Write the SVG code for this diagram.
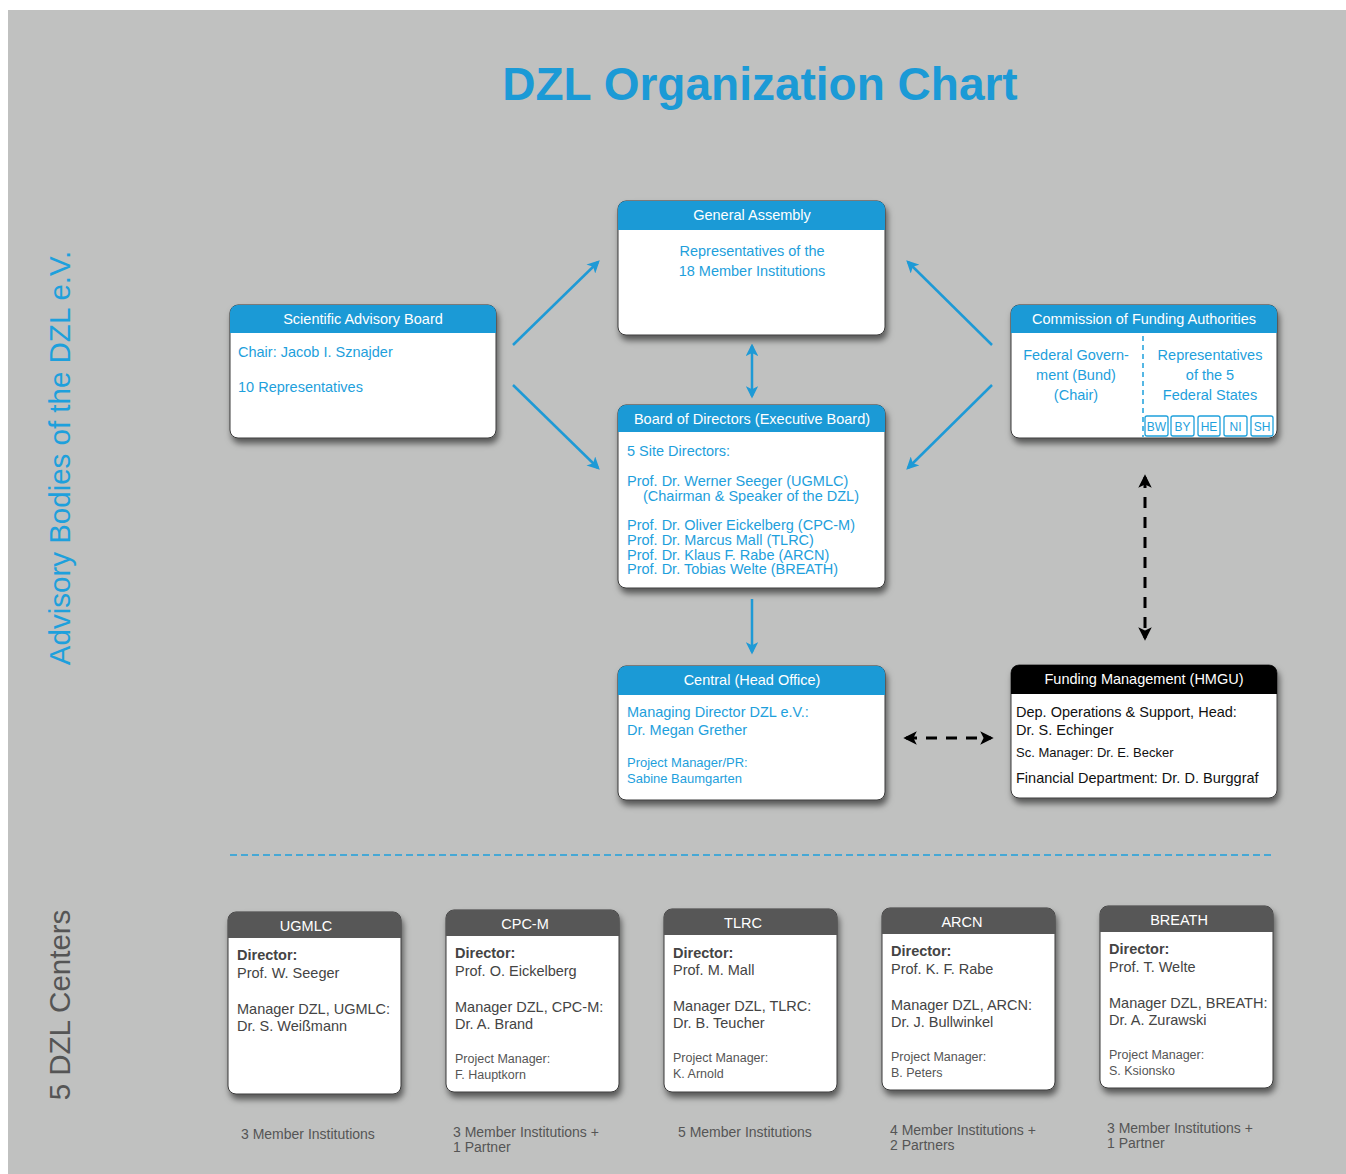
<svg xmlns="http://www.w3.org/2000/svg" width="1346" height="1174" viewBox="0 0 1346 1174">
<style>
.bg{fill:#c0c1c0}
.box{fill:#fff;stroke:#3a3a3a;stroke-width:1}
.hb{fill:#1b9ad6}
.hk{fill:#000}
.hg{fill:#575757}
text{font-family:"Liberation Sans",Arial,sans-serif}
.ht{fill:#fff;font-size:14.5px;text-anchor:middle}
.bt{fill:#1ea0dc;font-size:14.5px}
.bs{fill:#1ea0dc;font-size:13px}
.kt{fill:#111;font-size:14.5px}
.ks{fill:#111;font-size:13px}
.gt{fill:#444;font-size:14.5px}
.gb{fill:#444;font-size:14.5px;font-weight:bold}
.gs{fill:#555;font-size:12.5px}
.ut{fill:#555;font-size:14px}
.mid{text-anchor:middle}
.sb{fill:#fff;stroke:#1ea0dc;stroke-width:1.3}
.st{fill:#1ea0dc;font-size:12px;text-anchor:middle}
.ba{stroke:#1e9ad6;stroke-width:2.5;fill:none}
.ka{stroke:#000;stroke-width:3;fill:none;stroke-dasharray:11 9}
</style>
<defs>
<filter id="sh" x="-10%" y="-10%" width="125%" height="130%">
<feDropShadow dx="2" dy="5" stdDeviation="3" flood-color="#000" flood-opacity="0.55"/>
</filter>
<marker id="ab" viewBox="0 0 10 10" refX="8" refY="5" markerWidth="5" markerHeight="5" orient="auto-start-reverse" markerUnits="strokeWidth">
<path d="M0,0 L10,5 L0,10 L2.5,5 Z" fill="#1e9ad6"/>
</marker>
<marker id="ak" viewBox="0 0 10 10" refX="8" refY="5" markerWidth="4.5" markerHeight="4.5" orient="auto-start-reverse" markerUnits="strokeWidth">
<path d="M0,0 L10,5 L0,10 L2.5,5 Z" fill="#000"/>
</marker>
</defs>
<rect class="bg" x="8" y="10" width="1338" height="1164"/>
<text x="760" y="100" font-size="46" font-weight="bold" fill="#1b9ad6" text-anchor="middle">DZL Organization Chart</text>
<text transform="translate(70,458) rotate(-90)" font-size="29.5" fill="#1ea0dc" text-anchor="middle">Advisory Bodies of the DZL e.V.</text>
<text transform="translate(70,1005) rotate(-90)" font-size="29.5" fill="#555" text-anchor="middle">5 DZL Centers</text>
<line x1="230" y1="855" x2="1273" y2="855" stroke="#1ea0dc" stroke-width="1.5" stroke-dasharray="7 4"/>

<g id="connectors">
<line class="ba" x1="513" y1="345" x2="598" y2="262" marker-end="url(#ab)"/>
<line class="ba" x1="513" y1="385" x2="598" y2="468" marker-end="url(#ab)"/>
<line class="ba" x1="992" y1="345" x2="908" y2="262" marker-end="url(#ab)"/>
<line class="ba" x1="992" y1="385" x2="908" y2="468" marker-end="url(#ab)"/>
<line class="ba" x1="752" y1="346" x2="752" y2="396" marker-start="url(#ab)" marker-end="url(#ab)"/>
<line class="ba" x1="752" y1="599" x2="752" y2="652" marker-end="url(#ab)"/>
<line class="ka" x1="1145" y1="477" x2="1145" y2="638" marker-start="url(#ak)" marker-end="url(#ak)"/>
<line class="ka" x1="906" y1="738" x2="991" y2="738" marker-start="url(#ak)" marker-end="url(#ak)"/>
</g>

<g id="sab">
<rect class="box" x="230" y="305" width="266" height="133" rx="8" filter="url(#sh)"/>
<path class="hb" d="M230,333 V313 A8,8 0 0 1 238,305 H488 A8,8 0 0 1 496,313 V333 Z"/>
<text class="ht" x="363" y="324">Scientific Advisory Board</text>
<text class="bt" x="238" y="357">Chair: Jacob I. Sznajder</text>
<text class="bt" x="238" y="392">10 Representatives</text>
</g>

<g id="ga">
<rect class="box" x="618" y="201" width="267" height="134" rx="8" filter="url(#sh)"/>
<path class="hb" d="M618,230 V209 A8,8 0 0 1 626,201 H877 A8,8 0 0 1 885,209 V230 Z"/>
<text class="ht" x="752" y="220">General Assembly</text>
<text class="bt mid" x="752" y="256">Representatives of the</text>
<text class="bt mid" x="752" y="276">18 Member Institutions</text>
</g>

<g id="cfa">
<rect class="box" x="1011" y="305" width="266" height="133" rx="8" filter="url(#sh)"/>
<path class="hb" d="M1011,333 V313 A8,8 0 0 1 1019,305 H1269 A8,8 0 0 1 1277,313 V333 Z"/>
<text class="ht" x="1144" y="324">Commission of Funding Authorities</text>
<line x1="1143" y1="336" x2="1143" y2="437" stroke="#1ea0dc" stroke-width="1.5" stroke-dasharray="5 4"/>
<text class="bt mid" x="1076" y="360">Federal Govern-</text>
<text class="bt mid" x="1076" y="380">ment (Bund)</text>
<text class="bt mid" x="1076" y="400">(Chair)</text>
<text class="bt mid" x="1210" y="360">Representatives</text>
<text class="bt mid" x="1210" y="380">of the 5</text>
<text class="bt mid" x="1210" y="400">Federal States</text>
<rect class="sb" x="1145" y="416" width="23" height="20" rx="2"/>
<rect class="sb" x="1171" y="416" width="23" height="20" rx="2"/>
<rect class="sb" x="1198" y="416" width="22" height="20" rx="2"/>
<rect class="sb" x="1224" y="416" width="23" height="20" rx="2"/>
<rect class="sb" x="1251" y="416" width="22" height="20" rx="2"/>
<text class="st" x="1156.5" y="431">BW</text>
<text class="st" x="1182.5" y="431">BY</text>
<text class="st" x="1209" y="431">HE</text>
<text class="st" x="1235.5" y="431">NI</text>
<text class="st" x="1262" y="431">SH</text>
</g>

<g id="bod">
<rect class="box" x="618" y="405" width="267" height="183" rx="8" filter="url(#sh)"/>
<path class="hb" d="M618,432 V413 A8,8 0 0 1 626,405 H877 A8,8 0 0 1 885,413 V432 Z"/>
<text class="ht" x="752" y="424">Board of Directors (Executive Board)</text>
<text class="bt" x="627" y="456">5 Site Directors:</text>
<text class="bt" x="627" y="486">Prof. Dr. Werner Seeger (UGMLC)</text>
<text class="bt" x="643" y="501">(Chairman &amp; Speaker of the DZL)</text>
<text class="bt" x="627" y="530">Prof. Dr. Oliver Eickelberg (CPC-M)</text>
<text class="bt" x="627" y="545">Prof. Dr. Marcus Mall (TLRC)</text>
<text class="bt" x="627" y="560">Prof. Dr. Klaus F. Rabe (ARCN)</text>
<text class="bt" x="627" y="574">Prof. Dr. Tobias Welte (BREATH)</text>
</g>

<g id="central">
<rect class="box" x="618" y="666" width="267" height="134" rx="8" filter="url(#sh)"/>
<path class="hb" d="M618,695 V674 A8,8 0 0 1 626,666 H877 A8,8 0 0 1 885,674 V695 Z"/>
<text class="ht" x="752" y="685">Central (Head Office)</text>
<text class="bt" x="627" y="717">Managing Director DZL e.V.:</text>
<text class="bt" x="627" y="735">Dr. Megan Grether</text>
<text class="bs" x="627" y="767">Project Manager/PR:</text>
<text class="bs" x="627" y="783">Sabine Baumgarten</text>
</g>

<g id="fm">
<rect class="box" x="1011" y="665" width="266" height="133" rx="8" filter="url(#sh)"/>
<path class="hk" d="M1011,694 V673 A8,8 0 0 1 1019,665 H1269 A8,8 0 0 1 1277,673 V694 Z"/>
<text class="ht" x="1144" y="684">Funding Management (HMGU)</text>
<text class="kt" x="1016" y="717">Dep. Operations &amp; Support, Head:</text>
<text class="kt" x="1016" y="735">Dr. S. Echinger</text>
<text class="ks" x="1016" y="757">Sc. Manager: Dr. E. Becker</text>
<text class="kt" x="1016" y="783">Financial Department: Dr. D. Burggraf</text>
</g>

<g id="ugmlc">
<rect class="box" x="228" y="912" width="173" height="182" rx="8" filter="url(#sh)"/>
<path class="hg" d="M228,938 V920 A8,8 0 0 1 236,912 H393 A8,8 0 0 1 401,920 V938 Z"/>
<text class="ht" x="306" y="931">UGMLC</text>
<text class="gb" x="237" y="960">Director:</text>
<text class="gt" x="237" y="978">Prof. W. Seeger</text>
<text class="gt" x="237" y="1014">Manager DZL, UGMLC:</text>
<text class="gt" x="237" y="1031">Dr. S. Weißmann</text>
<text class="ut" x="241" y="1139">3 Member Institutions</text>
</g>

<g id="cpcm">
<rect class="box" x="446" y="910" width="173" height="182" rx="8" filter="url(#sh)"/>
<path class="hg" d="M446,936 V918 A8,8 0 0 1 454,910 H611 A8,8 0 0 1 619,918 V936 Z"/>
<text class="ht" x="525" y="929">CPC-M</text>
<text class="gb" x="455" y="958">Director:</text>
<text class="gt" x="455" y="976">Prof. O. Eickelberg</text>
<text class="gt" x="455" y="1012">Manager DZL, CPC-M:</text>
<text class="gt" x="455" y="1029">Dr. A. Brand</text>
<text class="gs" x="455" y="1063">Project Manager:</text>
<text class="gs" x="455" y="1079">F. Hauptkorn</text>
<text class="ut" x="453" y="1137">3 Member Institutions +</text>
<text class="ut" x="453" y="1152">1 Partner</text>
</g>

<g id="tlrc">
<rect class="box" x="664" y="909" width="173" height="183" rx="8" filter="url(#sh)"/>
<path class="hg" d="M664,935 V917 A8,8 0 0 1 672,909 H829 A8,8 0 0 1 837,917 V935 Z"/>
<text class="ht" x="743" y="928">TLRC</text>
<text class="gb" x="673" y="958">Director:</text>
<text class="gt" x="673" y="975">Prof. M. Mall</text>
<text class="gt" x="673" y="1011">Manager DZL, TLRC:</text>
<text class="gt" x="673" y="1028">Dr. B. Teucher</text>
<text class="gs" x="673" y="1062">Project Manager:</text>
<text class="gs" x="673" y="1078">K. Arnold</text>
<text class="ut" x="678" y="1137">5 Member Institutions</text>
</g>

<g id="arcn">
<rect class="box" x="882" y="908" width="173" height="182" rx="8" filter="url(#sh)"/>
<path class="hg" d="M882,934 V916 A8,8 0 0 1 890,908 H1047 A8,8 0 0 1 1055,916 V934 Z"/>
<text class="ht" x="962" y="927">ARCN</text>
<text class="gb" x="891" y="956">Director:</text>
<text class="gt" x="891" y="974">Prof. K. F. Rabe</text>
<text class="gt" x="891" y="1010">Manager DZL, ARCN:</text>
<text class="gt" x="891" y="1027">Dr. J. Bullwinkel</text>
<text class="gs" x="891" y="1061">Project Manager:</text>
<text class="gs" x="891" y="1077">B. Peters</text>
<text class="ut" x="890" y="1135">4 Member Institutions +</text>
<text class="ut" x="890" y="1150">2 Partners</text>
</g>

<g id="breath">
<rect class="box" x="1100" y="906" width="173" height="182" rx="8" filter="url(#sh)"/>
<path class="hg" d="M1100,932 V914 A8,8 0 0 1 1108,906 H1265 A8,8 0 0 1 1273,914 V932 Z"/>
<text class="ht" x="1179" y="925">BREATH</text>
<text class="gb" x="1109" y="954">Director:</text>
<text class="gt" x="1109" y="972">Prof. T. Welte</text>
<text class="gt" x="1109" y="1008">Manager DZL, BREATH:</text>
<text class="gt" x="1109" y="1025">Dr. A. Zurawski</text>
<text class="gs" x="1109" y="1059">Project Manager:</text>
<text class="gs" x="1109" y="1075">S. Ksionsko</text>
<text class="ut" x="1107" y="1133">3 Member Institutions +</text>
<text class="ut" x="1107" y="1148">1 Partner</text>
</g>
</svg>
